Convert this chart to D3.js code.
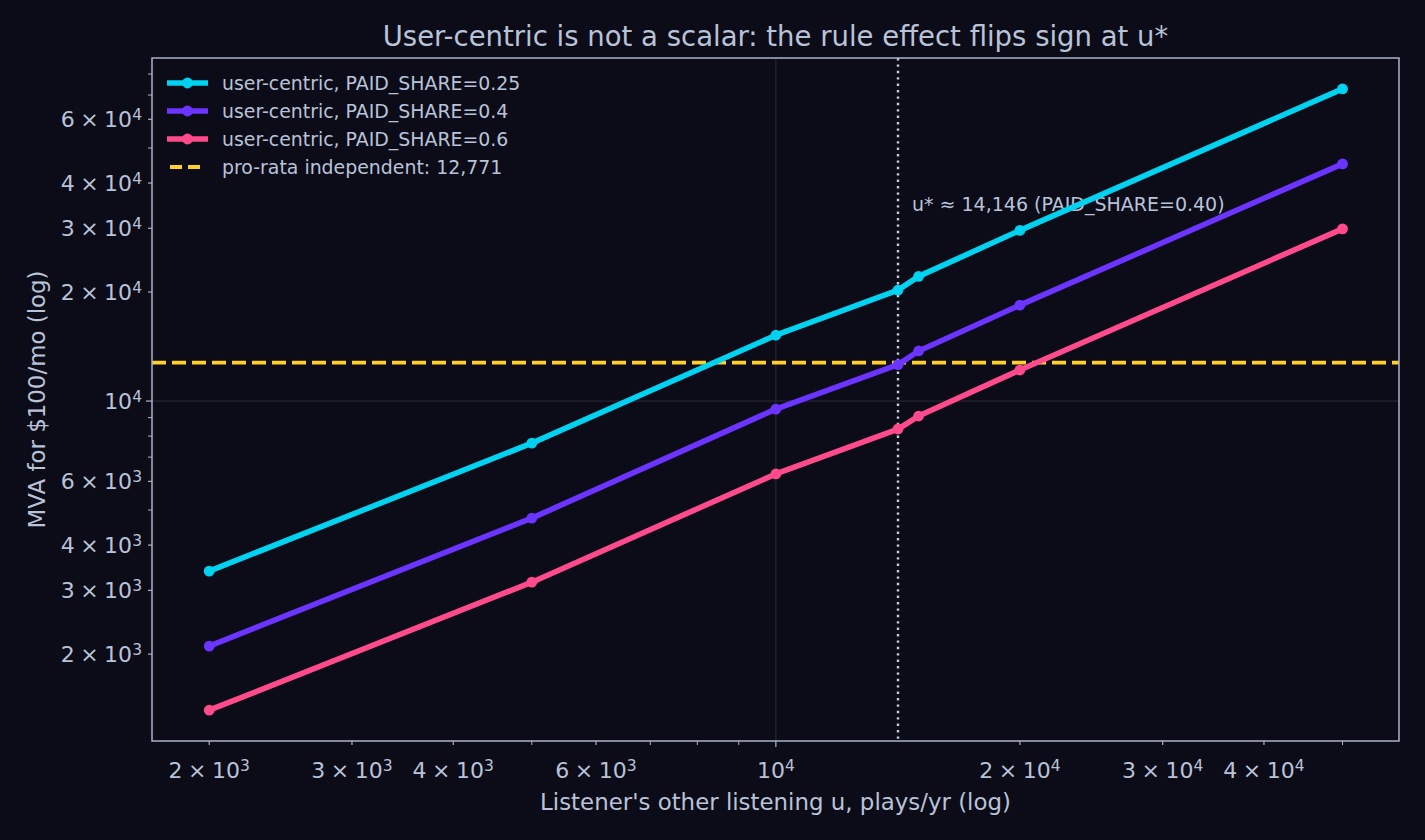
<!DOCTYPE html>
<html>
<head>
<meta charset="utf-8">
<script src="https://cdn.jsdelivr.net/npm/d3@7"></script>
<style>
  html, body { margin: 0; padding: 0; background: #0c0b18; }
  text { font-family: "DejaVu Sans", sans-serif; fill: #b9c3d8; }
</style>
</head>
<body>
<div id="chart-area"></div>
<script>
// listening levels u (plays/yr)
var uVals = [2000, 5000, 10000, 14146, 15000, 20000, 50000];

// MVA per paid share
var mva025 = [3390, 7650, 15200, 20250, 22100, 29600, 72800];
var mva040 = [2105, 4750, 9500, 12600, 13750, 18400, 45200];
var mva060 = [1400, 3160, 6290, 8370, 9090, 12180, 29900];

var seriesNames = ["user-centric, PAID_SHARE=0.25", "user-centric, PAID_SHARE=0.4", "user-centric, PAID_SHARE=0.6"];
var seriesColors = ["#00d2f0", "#6c34ff", "#ff4b8b"];

var proRata = 12771;
var uStar = 14146;

// ticks
var xTickVals = [2000, 3000, 4000, 6000, 10000, 20000, 30000, 40000];
var xTickMant = ["2", "3", "4", "6", "", "2", "3", "4"];
var xTickExp = ["3", "3", "3", "3", "4", "4", "4", "4"];
var xMinor = [5000, 7000, 8000, 9000, 50000];

var yTickVals = [2000, 3000, 4000, 6000, 10000, 20000, 30000, 40000, 60000];
var yTickMant = ["2", "3", "4", "6", "", "2", "3", "4", "6"];
var yTickExp = ["3", "3", "3", "3", "4", "4", "4", "4", "4"];
var yMinor = [5000, 7000, 8000, 9000, 50000, 70000, 80000];

var margin = {left: 152, right: 26, top: 58, bottom: 99};
var W = 1425, H = 840;
var width = W - margin.left - margin.right,
    height = H - margin.top - margin.bottom;

var svg = d3.select("#chart-area")
    .append("svg")
    .attr("width", W)
    .attr("height", H);

svg.append("rect").attr("width", W).attr("height", H).attr("fill", "#0c0b18");

var g = svg.append("g")
    .attr("transform", "translate(" + margin.left + "," + margin.top + ")");

var x = d3.scaleLog().domain([1700, 58700]).range([0, width]);
var y = d3.scaleLog().domain([1151, 88600]).range([height, 0]);

var axisCol = "#a9b4cb";
var gridCol = "#2b2b3c";

// grid (major only)
g.append("line")
    .attr("x1", x(10000)).attr("x2", x(10000))
    .attr("y1", 0).attr("y2", height)
    .attr("stroke", gridCol).attr("stroke-width", 1);
g.append("line")
    .attr("x1", 0).attr("x2", width)
    .attr("y1", y(10000)).attr("y2", y(10000))
    .attr("stroke", gridCol).attr("stroke-width", 1);

// pro-rata line
g.append("line")
    .attr("x1", 0).attr("x2", width)
    .attr("y1", y(proRata)).attr("y2", y(proRata))
    .attr("stroke", "#ffcf2a").attr("stroke-width", 3.8)
    .attr("stroke-dasharray", "14,6");

// u* line
g.append("line")
    .attr("x1", x(uStar)).attr("x2", x(uStar))
    .attr("y1", 0).attr("y2", height)
    .attr("stroke", "#c6cedf").attr("stroke-width", 2.4)
    .attr("stroke-dasharray", "2.4,4");

g.append("text")
    .attr("x", x(uStar) + 14)
    .attr("y", 211 - margin.top)
    .attr("font-size", "19px")
    .text("u* \u2248 14,146 (PAID_SHARE=0.40)");

// series
var allSeries = [mva025, mva040, mva060];
var line = d3.line()
    .x(function(d, i) { return x(uVals[i]); })
    .y(function(d) { return y(d); });

allSeries.forEach(function(s, k) {
    g.append("path")
        .datum(s)
        .attr("d", line)
        .attr("fill", "none")
        .attr("stroke", seriesColors[k])
        .attr("stroke-width", 5.6)
        .attr("stroke-linejoin", "round");
    g.selectAll(".pt" + k)
        .data(s)
        .enter()
        .append("circle")
        .attr("cx", function(d, i) { return x(uVals[i]); })
        .attr("cy", function(d) { return y(d); })
        .attr("r", 5.4)
        .attr("fill", seriesColors[k]);
});

// frame
g.append("rect")
    .attr("width", width).attr("height", height)
    .attr("fill", "none").attr("stroke", axisCol).attr("stroke-width", 1.5);

// tick label helper: "m × 10^e"
function sciLabel(sel, m, e) {
    if (m !== "") {
        sel.append("tspan").text(m + "\u2005\u00d7\u200510");
    } else {
        sel.append("tspan").text("10");
    }
    sel.append("tspan").attr("dy", "-0.45em").attr("font-size", "15.5px").text(e);
}

// x ticks
xTickVals.forEach(function(v, i) {
    var major = (v === 10000);
    g.append("line")
        .attr("x1", x(v)).attr("x2", x(v))
        .attr("y1", height).attr("y2", height + (major ? 6 : 4))
        .attr("stroke", axisCol).attr("stroke-width", 1.2);
    var t = g.append("text")
        .attr("x", x(v)).attr("y", height + 37)
        .attr("text-anchor", "middle")
        .attr("font-size", "22px");
    sciLabel(t, xTickMant[i], xTickExp[i]);
});
xMinor.forEach(function(v) {
    g.append("line")
        .attr("x1", x(v)).attr("x2", x(v))
        .attr("y1", height).attr("y2", height + 4)
        .attr("stroke", axisCol).attr("stroke-width", 1);
});

// y ticks
yTickVals.forEach(function(v, i) {
    var major = (v === 10000);
    g.append("line")
        .attr("x1", 0).attr("x2", major ? -6 : -4)
        .attr("y1", y(v)).attr("y2", y(v))
        .attr("stroke", axisCol).attr("stroke-width", 1.2);
    var t = g.append("text")
        .attr("x", -10).attr("y", y(v) + 8)
        .attr("text-anchor", "end")
        .attr("font-size", "22px");
    sciLabel(t, yTickMant[i], yTickExp[i]);
});
yMinor.forEach(function(v) {
    g.append("line")
        .attr("x1", 0).attr("x2", -4)
        .attr("y1", y(v)).attr("y2", y(v))
        .attr("stroke", axisCol).attr("stroke-width", 1);
});

// axis labels
g.append("text")
    .attr("x", width / 2).attr("y", height + 69)
    .attr("text-anchor", "middle")
    .attr("font-size", "22.9px")
    .text("Listener's other listening u, plays/yr (log)");

g.append("text")
    .attr("transform", "rotate(-90)")
    .attr("x", -height / 2).attr("y", -107)
    .attr("text-anchor", "middle")
    .attr("font-size", "22.9px")
    .text("MVA for $100/mo (log)");

// title
g.append("text")
    .attr("x", width / 2).attr("y", -12)
    .attr("text-anchor", "middle")
    .attr("font-size", "27.5px")
    .text("User-centric is not a scalar: the rule effect flips sign at u*");

// legend
var legend = g.append("g").attr("transform", "translate(15,25)");
seriesNames.forEach(function(n, k) {
    var row = legend.append("g").attr("transform", "translate(0," + (k * 28) + ")");
    row.append("line").attr("x1", 0).attr("x2", 41).attr("y1", 0).attr("y2", 0)
        .attr("stroke", seriesColors[k]).attr("stroke-width", 5.6);
    row.append("circle").attr("cx", 20.5).attr("cy", 0).attr("r", 5.4).attr("fill", seriesColors[k]);
    row.append("text").attr("x", 55).attr("y", 6.5).attr("font-size", "18.9px").text(n);
});
var prow = legend.append("g").attr("transform", "translate(0," + (3 * 28) + ")");
prow.append("line").attr("x1", 3).attr("x2", 39).attr("y1", 0).attr("y2", 0)
    .attr("stroke", "#ffcf2a").attr("stroke-width", 3.8).attr("stroke-dasharray", "12,6");
prow.append("text").attr("x", 55).attr("y", 6.5).attr("font-size", "18.9px")
    .text("pro-rata independent: 12,771");
</script>
</body>
</html>
